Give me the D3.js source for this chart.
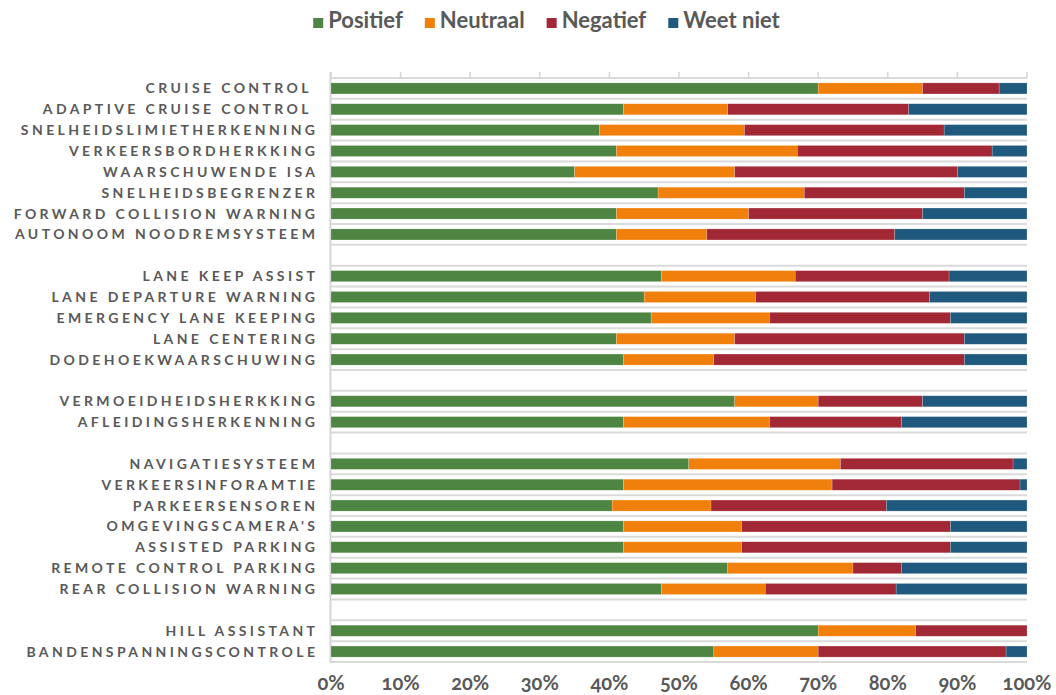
<!DOCTYPE html>
<html><head><meta charset="utf-8">
<script src="https://cdn.jsdelivr.net/npm/d3@7"></script>
<style>body{margin:0;background:#fff} svg{display:block}</style>
</head><body><svg id="c" width="1056" height="695"></svg>
<script>
// ---- data ----
const categories = ["CRUISE CONTROL ", "ADAPTIVE CRUISE CONTROL ", "SNELHEIDSLIMIETHERKENNING", "VERKEERSBORDHERKKING", "WAARSCHUWENDE ISA", "SNELHEIDSBEGRENZER", "FORWARD COLLISION WARNING", "AUTONOOM NOODREMSYSTEEM", "",
  "LANE KEEP ASSIST", "LANE DEPARTURE WARNING", "EMERGENCY LANE KEEPING", "LANE CENTERING", "DODEHOEKWAARSCHUWING", "",
  "VERMOEIDHEIDSHERKKING", "AFLEIDINGSHERKENNING", "",
  "NAVIGATIESYSTEEM", "VERKEERSINFORAMTIE", "PARKEERSENSOREN", "OMGEVINGSCAMERA'S", "ASSISTED PARKING", "REMOTE CONTROL PARKING", "REAR COLLISION WARNING", "",
  "HILL ASSISTANT", "BANDENSPANNINGSCONTROLE"];
const positief = [70, 42, 38.6, 41, 35, 47, 41, 41, null, 47.5, 45, 46, 41, 42, null, 58, 42, null, 51.4, 42, 40.4, 42, 42, 57, 47.5, null, 70, 55];
const neutraal = [15, 15, 20.8, 26, 23, 21, 19, 13, null, 19.2, 16, 17, 17, 13, null, 12, 21, null, 21.8, 30, 14.2, 17, 17, 18, 14.9, null, 14, 15];
const negatief = [11, 26, 28.7, 28, 32, 23, 25, 27, null, 22.1, 25, 26, 33, 36, null, 15, 19, null, 24.8, 27, 25.2, 30, 30, 7, 18.8, null, 16, 27];
const weetNiet = [4, 17, 11.9, 5, 10, 9, 15, 19, null, 11.2, 14, 11, 9, 9, null, 15, 18, null, 2, 1, 20.2, 11, 11, 18, 18.8, null, 0, 3];
const seriesNames = ["Positief", "Neutraal", "Negatief", "Weet niet"];
const tickValues = [0, 10, 20, 30, 40, 50, 60, 70, 80, 90, 100];
const colors = ["#4e8542", "#f0800b", "#a22836", "#1f5a7e"];

// ---- layout ----
const svg = d3.select("#c");
const textColor = "#595959";
const font = "Lato, 'Open Sans', sans-serif";
const plotLeft = 331, plotRight = 1027, plotTop = 78, plotBottom = 662;

const x = d3.scaleLinear().domain([0, 100]).range([plotLeft, plotRight]);
const y = d3.scaleBand().domain(d3.range(categories.length)).range([plotTop, plotBottom])
  .paddingInner(0.47).paddingOuter(0.235);

const rows = categories.map((c, i) => ({i, name: c, "Positief": positief[i], "Neutraal": neutraal[i], "Negatief": negatief[i], "Weet niet": weetNiet[i]}))
  .filter(r => r.Positief !== null);
const stacked = d3.stack().keys(seriesNames)(rows);

// gridlines at row boundaries
const step = y.step();
const off = (step - y.bandwidth()) / 2;
const bounds = d3.range(categories.length).map(i => y(i) - off).concat([y(categories.length - 1) + y.bandwidth() + off]);
svg.append("g").selectAll("line").data(bounds).join("line")
  .attr("x1", plotLeft).attr("x2", plotRight)
  .attr("y1", d => d).attr("y2", d => d)
  .attr("stroke", "#dadada").attr("stroke-width", 2);

// top ticks
svg.append("g").selectAll("line").data(tickValues).join("line")
  .attr("x1", d => x(d)).attr("x2", d => x(d))
  .attr("y1", plotTop - 6).attr("y2", plotTop)
  .attr("stroke", "#d6d6d6").attr("stroke-width", 1.5);

// left axis line
svg.append("line").attr("x1", plotLeft - 0.5).attr("x2", plotLeft - 0.5).attr("y1", plotTop - 6).attr("y2", plotBottom + 1)
  .attr("stroke", "#d6d6d6").attr("stroke-width", 2);

// bars
svg.append("g").selectAll("g").data(stacked).join("g")
  .attr("fill", (d, k) => colors[k])
  .selectAll("rect").data(d => d).join("rect")
  .attr("x", d => x(d[0]))
  .attr("width", d => Math.max(0, x(d[1]) - x(d[0])))
  .attr("y", d => y(d.data.i))
  .attr("height", y.bandwidth())
  .attr("stroke", "rgba(255,255,255,0.3)").attr("stroke-width", 0.6);

// category labels
const ls = 3.4;
svg.append("g").selectAll("text").data(categories.map((c, i) => ({c, i})).filter(d => d.c !== "")).join("text")
  .attr("x", 315 + ls)
  .attr("y", d => y(d.i) + y.bandwidth() / 2)
  .attr("dy", "0.36em")
  .attr("text-anchor", "end")
  .style("white-space", "pre")
  .attr("font-family", font).attr("font-weight", 700).attr("font-size", 14)
  .attr("letter-spacing", ls)
  .attr("fill", textColor)
  .text(d => d.c);

// bottom tick labels
svg.append("g").selectAll("text").data(tickValues).join("text")
  .attr("x", d => x(d)).attr("y", 690)
  .attr("text-anchor", "middle")
  .attr("font-family", font).attr("font-weight", 700).attr("font-size", 20)
  .style("font-variant-numeric", "oldstyle-nums")
  .attr("fill", textColor)
  .text(d => d + "%");

// legend
const lg = svg.append("g");
const items = seriesNames.map((n, k) => {
  const g = lg.append("g");
  g.append("rect").attr("width", 10).attr("height", 10).attr("y", 18).attr("fill", colors[k]);
  const t = g.append("text").attr("x", 15).attr("y", 28)
    .attr("font-family", font).attr("font-weight", 700).attr("font-size", 22)
    .attr("fill", textColor).text(n);
  return {g, w: 15 + t.node().getComputedTextLength()};
});
const gap = 22;
const total = d3.sum(items, d => d.w) + gap * (items.length - 1);
let cx = 546.5 - total / 2;
items.forEach(it => { it.g.attr("transform", `translate(${cx},0)`); cx += it.w + gap; });
</script>
</body></html>
